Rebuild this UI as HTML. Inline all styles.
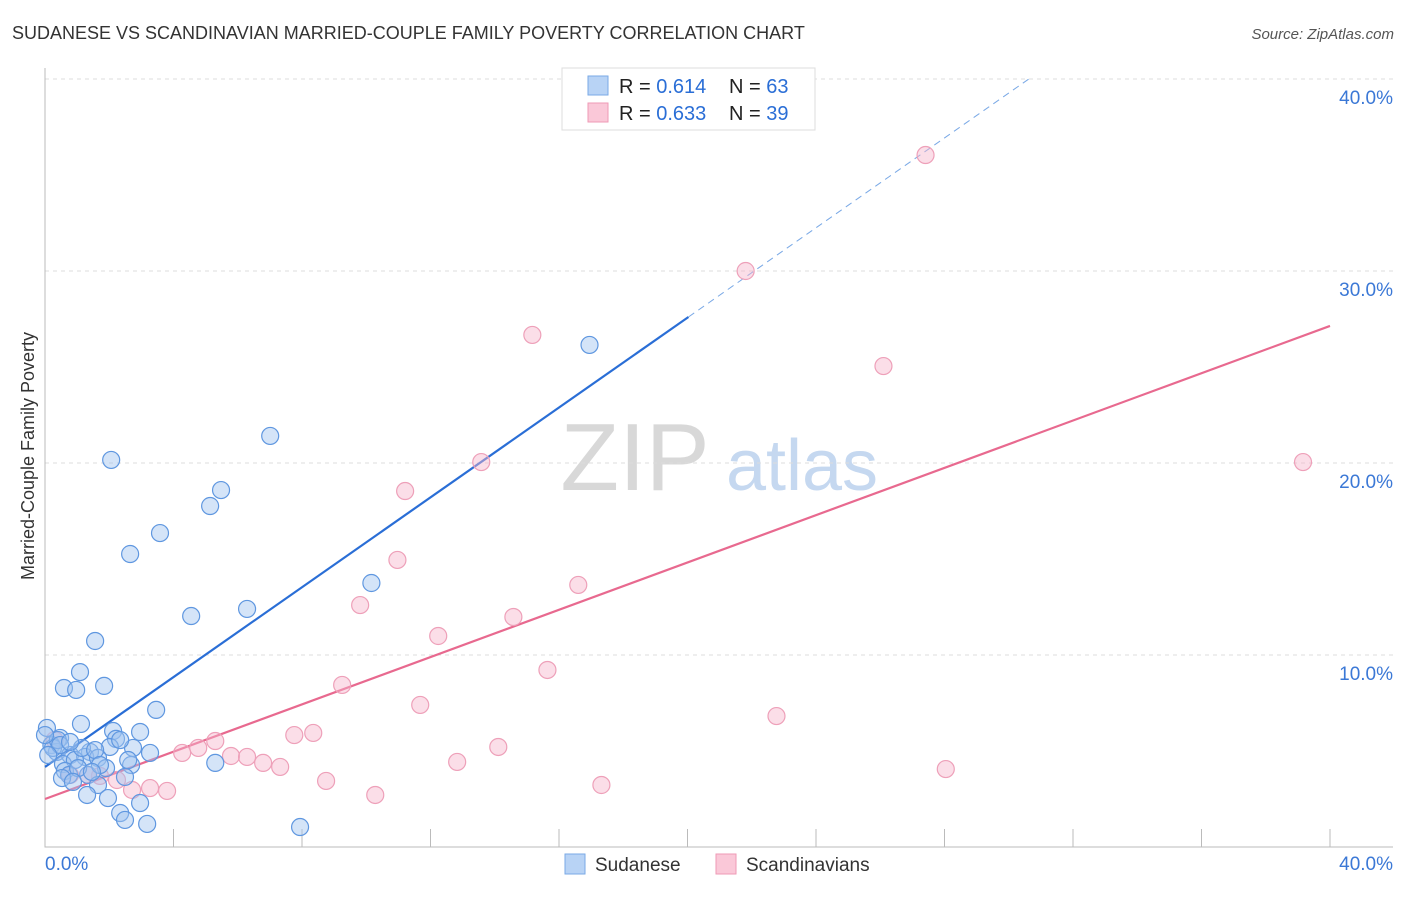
<!DOCTYPE html>
<html><head><meta charset="utf-8">
<style>
body{margin:0;background:#fff;font-family:"Liberation Sans",sans-serif;}
svg text{font-family:"Liberation Sans",sans-serif;}
</style></head>
<body>
<svg id="chart" width="1406" height="892" viewBox="0 0 1406 892" xmlns="http://www.w3.org/2000/svg">
<text x="12" y="39" font-size="18" fill="#333">SUDANESE VS SCANDINAVIAN MARRIED-COUPLE FAMILY POVERTY CORRELATION CHART</text>
<text x="1394" y="39" font-size="15" fill="#555" text-anchor="end" font-style="italic">Source: ZipAtlas.com</text>
<text transform="translate(34,456) rotate(-90)" font-size="18" fill="#333" text-anchor="middle">Married-Couple Family Poverty</text>
<g>
<text x="635" y="490" font-size="96" fill="#d8d8d8" font-family="Liberation Serif, serif" text-anchor="middle">ZIP</text>
<text x="802" y="490" font-size="72" fill="#c5d8f0" text-anchor="middle">atlas</text>
</g>
<g id="grid"></g>
<g id="lines"></g>
<g id="points"></g>
<g>
<rect x="562" y="68" width="253" height="62" fill="#fff" stroke="#ddd"/>
<rect x="588" y="76" width="20" height="19" fill="#b8d3f5" stroke="#7aa9e6"/>
<rect x="588" y="103" width="20" height="19" fill="#fac8d8" stroke="#ef9ab6"/>
<text x="619" y="93" font-size="20" fill="#222">R = <tspan fill="#2a6ed6">0.614</tspan></text>
<text x="729" y="93" font-size="20" fill="#222">N = <tspan fill="#2a6ed6">63</tspan></text>
<text x="619" y="120" font-size="20" fill="#222">R = <tspan fill="#2a6ed6">0.633</tspan></text>
<text x="729" y="120" font-size="20" fill="#222">N = <tspan fill="#2a6ed6">39</tspan></text>
</g>
<g>
<rect x="565" y="854" width="20" height="20" fill="#b8d3f5" stroke="#7aa9e6"/>
<text x="595" y="871" font-size="19" fill="#333">Sudanese</text>
<rect x="716" y="854" width="20" height="20" fill="#fac8d8" stroke="#ef9ab6"/>
<text x="746" y="871" font-size="19" fill="#333">Scandinavians</text>
</g>
</svg>
<script>
const blueX=[2.06,7.01,5.48,5.14,3.58,2.65,16.95,10.16,6.29,4.55,1.56,1.09,0.59,0.97,1.84,3.46,1.12,2.96,2.12,2.21,0.06,0.47,2.02,2.74,3.27,0.2,0.37,0.78,1.4,1.25,1.65,0.56,1.9,2.68,0.93,5.3,0.62,1.34,0.75,2.49,1.65,1.31,1.96,2.96,2.34,2.49,3.18,7.94,1.15,1.56,0.25,0.4,0.0,0.47,0.78,2.34,1.71,1.03,0.53,0.87,1.46,2.59,0.1];
const blueY=[20.16,21.41,18.59,17.76,16.35,15.26,26.15,13.75,12.4,12.03,10.73,9.11,8.28,8.18,8.39,7.14,6.41,5.99,6.04,5.63,6.2,5.68,5.21,5.16,4.9,5.31,4.95,4.79,4.95,4.69,4.64,4.32,4.11,4.27,4.53,4.38,3.96,3.75,3.75,3.65,3.23,2.71,2.55,2.29,1.77,1.41,1.2,1.04,5.16,5.05,5.16,5.57,5.83,5.31,5.47,5.57,4.27,4.11,3.59,3.39,3.91,4.53,4.79];
const pinkX=[27.41,21.81,15.17,26.1,39.16,13.58,11.21,10.97,16.6,9.81,14.58,12.24,15.64,9.25,11.68,22.77,8.35,7.76,5.3,4.77,4.27,5.79,6.29,6.79,7.32,14.11,12.83,28.04,8.75,10.28,17.32,3.27,2.71,3.8,2.24,1.71,1.34,0.78,0.3];
const pinkY=[36.04,30,26.67,25.05,20.05,20.05,18.54,14.95,13.65,12.6,11.98,10.99,9.22,8.44,7.4,6.82,5.94,5.83,5.52,5.16,4.9,4.74,4.69,4.38,4.17,5.21,4.43,4.06,3.44,2.71,3.23,3.07,2.97,2.92,3.49,3.7,3.75,3.75,5.57];
const blueFit=[4.17,1.17];   // intercept, slope
const pinkFit=[2.5,0.616];
const yTicks=[10,20,30,40];
const yTickLabels=["10.0%","20.0%","30.0%","40.0%"];
const xTicks=[0,4,8,12,16,20,24,28,32,36,40];

const NS="http://www.w3.org/2000/svg";
const X=v=>45+v*32.125;
const Y=v=>847-v*19.2;
function mk(tag,attrs,parent){const e=document.createElementNS(NS,tag);for(const k in attrs)e.setAttribute(k,attrs[k]);parent.appendChild(e);return e;}
const grid=document.getElementById('grid'),lines=document.getElementById('lines'),pts=document.getElementById('points');

yTicks.forEach((t,i)=>{
  const g=mk('line',{x1:45,x2:1393,y1:Y(t),y2:Y(t),stroke:'#ddd','stroke-dasharray':'4,4'},grid);
  
  
  const tx=mk('text',{x:1393,y:Y(t)+25,'font-size':19,fill:'#3b78d6','text-anchor':'end'},grid);
  tx.textContent=yTickLabels[i];
  
  
});
const ax=mk('path',{d:'M45 68 V847 H1393',fill:'none',stroke:'#bbb'},grid);


xTicks.forEach(t=>{
  if(t===0)return;
  const l=mk('line',{x1:X(t),x2:X(t),y1:829,y2:847,stroke:'#bbb'},grid);
  
  
});
const xl0=mk('text',{x:45,y:870,'font-size':19,fill:'#3b78d6'},grid);xl0.textContent='0.0%';


const xl1=mk('text',{x:1393,y:870,'font-size':19,fill:'#3b78d6','text-anchor':'end'},grid);xl1.textContent='40.0%';



pinkX.forEach((x,i)=>{
  const c=mk('circle',{cx:X(x),cy:Y(pinkY[i]),r:8.5,fill:'rgba(247,182,204,0.45)',stroke:'#eea0b9','stroke-width':1.2},pts);
  
  
});
blueX.forEach((x,i)=>{
  const c=mk('circle',{cx:X(x),cy:Y(blueY[i]),r:8.5,fill:'rgba(160,196,240,0.45)',stroke:'#5f97e0','stroke-width':1.2},pts);
  
  
});
const bEnd=20.03, bDashEnd=30.69;
const bl=mk('line',{x1:X(0),y1:Y(blueFit[0]),x2:X(bEnd),y2:Y(blueFit[0]+blueFit[1]*bEnd),stroke:'#2a6ed6','stroke-width':2.2},lines);


const bd=mk('line',{x1:X(bEnd),y1:Y(blueFit[0]+blueFit[1]*bEnd),x2:X(bDashEnd),y2:Y(blueFit[0]+blueFit[1]*bDashEnd),stroke:'#7aa9e6','stroke-width':1,'stroke-dasharray':'7,5'},lines);


const pl=mk('line',{x1:X(0),y1:Y(pinkFit[0]),x2:X(40),y2:Y(pinkFit[0]+pinkFit[1]*40),stroke:'#e8698f','stroke-width':2.2},lines);


</script>
</body></html>
